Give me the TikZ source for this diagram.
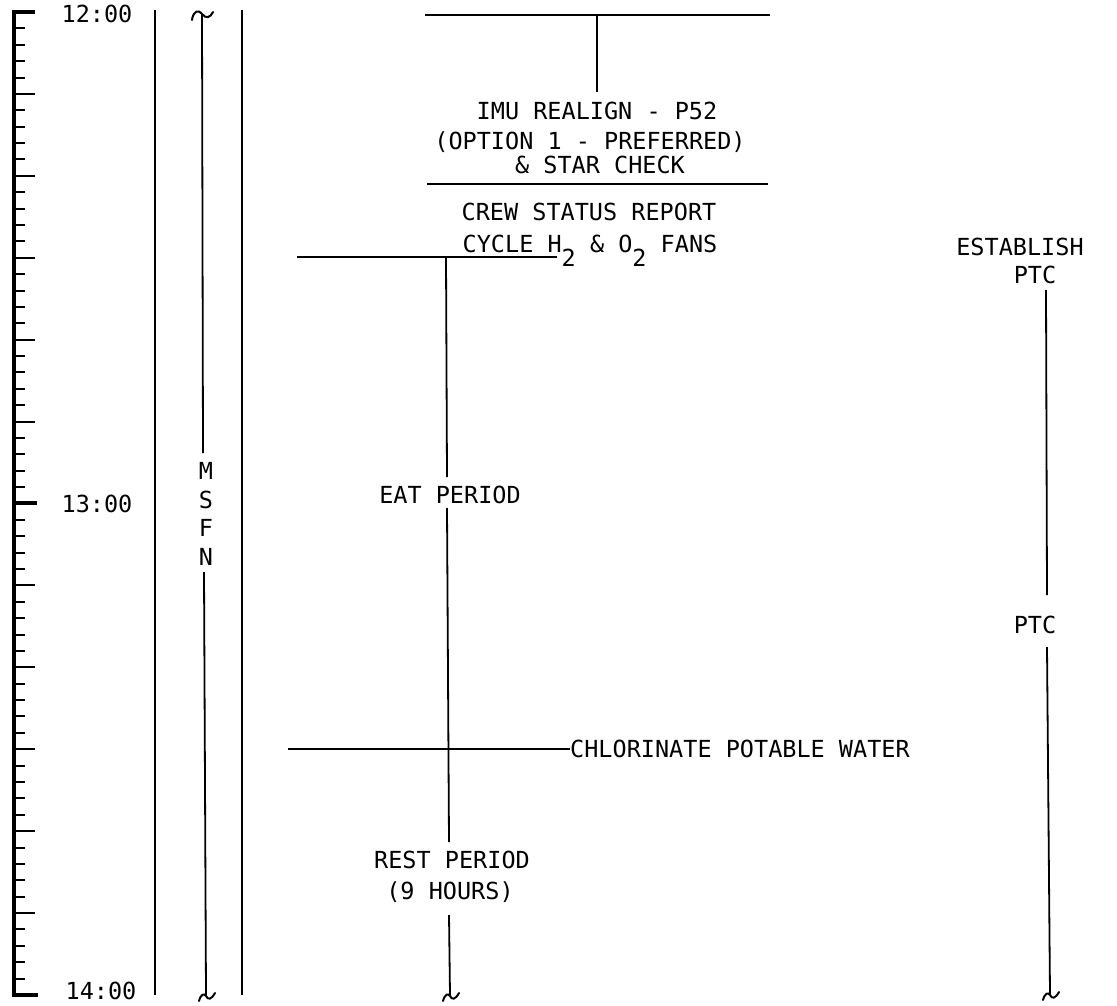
\documentclass[tikz,border=0pt]{standalone}
\usepackage{fontspec}
\newfontfamily\lblfont{DejaVu Sans Mono}
\begin{document}
\begin{tikzpicture}[x=1pt,y=-1pt,
  lbl/.style={font=\lblfont\fontsize{23.5}{28}\selectfont, inner sep=0pt, align=center},
  ln/.style={line width=1.8pt},
  rulerline/.style={line width=4.2pt},
  tickmark/.style={line width=2pt},
  bigtick/.style={line width=4pt},
  pics/bottilde/.style={code={\draw[line width=2pt, line cap=round] (-7,6) .. controls (-5,-1) and (-2,-2) .. (0,1) .. controls (2,5) and (5,5) .. (9,-2);}}]
\useasboundingbox (0,0) rectangle (1117,1006);

% ---- time ruler ----
\draw[rulerline] (35,12) -- (14,12) -- (14,995) -- (38,995);
\foreach \i in {1,...,59}{
  \pgfmathsetmacro\yy{12+\i*16.383}
  \pgfmathtruncatemacro\m{mod(\i,5)}
  \ifnum\i=30
    \draw[bigtick] (14,\yy) -- (37,\yy);
  \else\ifnum\m=0
    \draw[tickmark] (14,\yy) -- (35,\yy);
  \else
    \draw[tickmark] (14,\yy) -- (25,\yy);
  \fi\fi
}
\node[lbl, anchor=base] (t12) at (97,23) {12:00};
\node[lbl, anchor=base] (t13) at (97,512) {13:00};
\node[lbl, anchor=base] (t14) at (101,999) {14:00};

% ---- column lines ----
\coordinate (c1t) at (155,10); \coordinate (c1b) at (155,995);
\coordinate (c2t) at (242,10); \coordinate (c2b) at (242,995);
\draw[ln] (c1t) -- (c1b);
\draw[ln] (c2t) -- (c2b);

% ---- MSFN ----
\node[lbl, font=\lblfont\fontsize{23.5}{28.7}\selectfont] (msfn) at (206,514) {M\\S\\F\\N};
\coordinate (m1) at (202,14); \coordinate (m2) at (203,453);
\coordinate (m3) at (204,572); \coordinate (m4) at (206,995);
\draw[line width=2pt, line cap=round] (192,20) .. controls (193,11) and (199,9) .. (202,14) .. controls (206,19) and (210,18) .. (213,12);
\draw[ln] (m1) -- (m2);
\draw[ln] (m3) -- (m4);
\pic at (m4) {bottilde};

% ---- IMU realign block ----
\coordinate (topL) at (425,15); \coordinate (topR) at (770,15);
\coordinate (topM) at (597,15); \coordinate (topMe) at (597,92);
\draw[ln] (topL) -- (topR);
\draw[ln] (topM) -- (topMe);
\node[lbl, anchor=base] (imu1) at (597,120) {IMU REALIGN - P52};
\node[lbl, anchor=base] (imu2) at (590,150) {(OPTION 1 - PREFERRED)};
\node[lbl, anchor=base] (imu3) at (600,174) {\& STAR CHECK};
\coordinate (sepL) at (427,184); \coordinate (sepR) at (768,184);
\draw[ln] (sepL) -- (sepR);
\node[lbl, anchor=base] (crew1) at (589,220) {CREW STATUS REPORT};
\node[lbl, anchor=base] (crew2) at (590,252) {CYCLE H\raisebox{-14pt}{2} \& O\raisebox{-14pt}{2} FANS};

% ---- eat / rest period ----
\coordinate (eatL) at (297,257); \coordinate (eatR) at (557,257);
\draw[ln] (eatL) -- (eatR);
\node[lbl, anchor=base] (eat) at (450,503) {EAT PERIOD};
\coordinate (v1) at (446,257); \coordinate (v2) at (447,477);
\coordinate (v3) at (447,508); \coordinate (v4) at (449,842);
\coordinate (v5) at (449,915); \coordinate (v6) at (450,995);
\draw[ln] (v1) -- (v2);
\draw[ln] (v3) -- (v4);
\node[lbl, anchor=base] (rest1) at (452,868) {REST PERIOD};
\node[lbl, anchor=base] (rest2) at (450,899) {(9 HOURS)};
\draw[ln] (v5) -- (v6);
\pic at (v6) {bottilde};

% ---- chlorinate ----
\coordinate (chL) at (288,749); \coordinate (chR) at (570,749);
\draw[ln] (chL) -- (chR);
\node[lbl, anchor=west] (chl) at (chR) {CHLORINATE POTABLE WATER};

% ---- PTC ----
\node[lbl, anchor=base] (est1) at (1020,255) {ESTABLISH};
\node[lbl, anchor=base] (est2) at (1035,283) {PTC};
\coordinate (p1) at (1046,290); \coordinate (p2) at (1047,595);
\coordinate (p3) at (1047,647); \coordinate (p4) at (1050,994);
\draw[ln] (p1) -- (p2);
\node[lbl, anchor=base] (ptc) at (1035,633) {PTC};
\draw[ln] (p3) -- (p4);
\pic at (p4) {bottilde};
\end{tikzpicture}
\end{document}
